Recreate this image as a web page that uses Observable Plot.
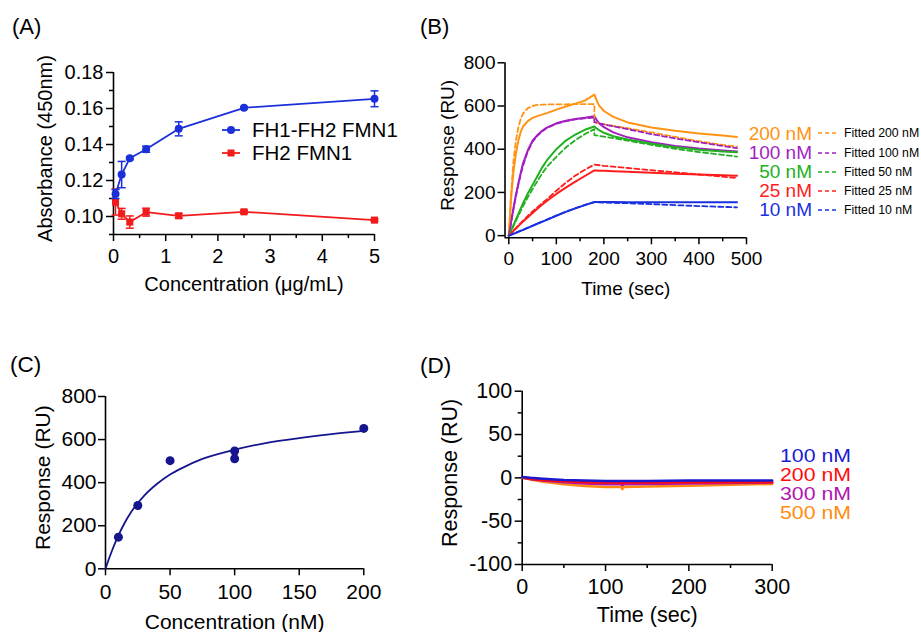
<!DOCTYPE html>
<html><head><meta charset="utf-8">
<script src="https://cdn.jsdelivr.net/npm/d3@7"></script>
<script src="https://cdn.jsdelivr.net/npm/@observablehq/plot@0.6"></script>
<style>
body{margin:0;background:#fff;}
#fig{position:relative;width:921px;height:632px;overflow:hidden;background:#fff;font-family:"Liberation Sans",Arial,sans-serif;}
.abs{position:absolute;white-space:nowrap;}
.row{position:absolute;display:flex;align-items:center;white-space:nowrap;}
.lt{display:inline-block;overflow:visible;}
</style></head><body><div id="fig"></div>
<script>
// ---------- Panel A data ----------
const concA = [0.039, 0.156, 0.3125, 0.625, 1.25, 2.5, 5];
const absFH1FH2 = [0.1125, 0.1233, 0.1324, 0.1374, 0.1487, 0.1604, 0.1654];
const errFH1FH2 = [0.0025, 0.0073, 0.0008, 0.0017, 0.0039, 0.0006, 0.0044];
const absFH2 = [0.1080, 0.1015, 0.0969, 0.1024, 0.1004, 0.1026, 0.0980];
const errFH2 = [0.0072, 0.0030, 0.0034, 0.0022, 0.0012, 0.0008, 0.0006];
const seriesA = ["FH1-FH2 FMN1", "FH2 FMN1"];
const ticksAx = [0, 1, 2, 3, 4, 5];
const minorAx = [0.5, 1.5, 2.5, 3.5, 4.5];
const ticksAy = [0.10, 0.12, 0.14, 0.16, 0.18];
const minorAy = [0.09, 0.11, 0.13, 0.15, 0.17];

// ---------- Panel B data ----------
const concB = ["200 nM", "100 nM", "50 nM", "25 nM", "10 nM"];
const fittedB = ["Fitted 200 nM", "Fitted 100 nM", "Fitted 50 nM", "Fitted 25 nM", "Fitted 10 nM"];
const timeObs = [0,5,10,15,20,25,30,40,50,60,70,80,100,120,140,160,180,185,190,200,220,250,300,350,400,450,480];
const obs200 = [0,180,300,380,440,480,505,530,545,553,560,567,583,598,611,625,653,625,602,577,550,524,501,485,473,463,457];
const obs100 = [0,65,130,190,240,290,335,395,440,465,485,500,520,532,540,546,553,535,520,502,478,455,432,415,403,394,389];
const obs50  = [0,25,50,75,100,125,150,195,235,275,315,348,400,440,468,490,505,496,488,476,460,445,425,409,398,390,386];
const obs25  = [0,11,22,33,44,55,65,85,105,124,143,160,193,222,250,276,302,301,300,300,298,296,291,287,283,280,277];
const obs10  = [0,4,9,13,18,22,27,36,45,55,64,73,92,110,126,141,156,156,156,156,156,155,155,155,154,154,154];
const timeFit = [0,5,10,15,20,25,30,40,50,60,70,80,100,120,140,160,180,180,200,250,300,350,400,450,480];
const fit200 = [0,200,350,440,500,540,565,590,600,605,606,607,608,608,609,609,609,525,515,497,478,457,437,420,412];
const fit100 = [0,62,125,182,235,282,325,390,435,462,482,498,518,530,538,543,547,525,515,493,470,450,432,415,405];
const fit50  = [0,22,45,68,92,115,137,178,216,252,287,318,365,408,442,470,493,465,458,440,420,402,387,374,366];
const fit25  = [0,12,24,35,47,58,69,91,112,131,150,168,208,245,278,305,329,329,323,313,303,293,283,273,267];
const fit10  = [0,5,9,14,18,23,27,37,46,56,65,74,93,111,127,142,155,155,153,150,146,141,137,133,131];
const ticksBx = [0, 100, 200, 300, 400, 500];
const minorBx = [50, 150, 250, 350, 450];
const ticksBy = [0, 200, 400, 600, 800];

// ---------- Panel C data ----------
const concC = [10, 25, 50, 100, 100, 200];
const respC = [147, 294, 502, 547, 511, 652];
const fitConcC = [0, 2, 5, 10, 15, 20, 30, 40, 50, 60, 75, 100, 125, 150, 175, 200];
const fitRespC = [0, 35, 84, 155, 215, 265, 340, 395, 438, 470, 510, 553, 585, 607, 625, 640];
const ticksCx = [0, 50, 100, 150, 200];
const ticksCy = [0, 200, 400, 600, 800];

// ---------- Panel D data ----------
const concD = ["100 nM", "200 nM", "300 nM", "500 nM"];
const timeD = [0, 10, 25, 50, 75, 100, 119, 120, 122, 150, 200, 250, 300];
const respD100 = [1, 0, -1, -2.5, -3, -3.5, -3.5, -3.5, -3.5, -3.5, -3.2, -3, -3];
const respD200 = [0.5, -1, -2.5, -4, -5, -5.5, -5.5, -6.5, -5.5, -5.5, -5, -5, -5];
const respD300 = [0.5, -1.5, -3, -5, -6.5, -7.5, -7.5, -8.5, -7.5, -7, -6.5, -6, -5.5];
const respD500 = [0, -2, -4.5, -7.5, -9.5, -10.5, -10.5, -13, -10.5, -10, -9, -8, -7];
const ticksDx = [0, 100, 200, 300];
const minorDx = [50, 150, 250];
const ticksDy = [-100, -50, 0, 50, 100];
const minorDy = [-75, -25, 25, 75];

// ---------- helpers ----------
const FONT = '"Liberation Sans", Arial, sans-serif';
const fig = document.getElementById("fig");
const capSymbol = {draw(ctx, size) { const w = Math.sqrt(size / Math.PI); ctx.moveTo(-w, 0); ctx.lineTo(w, 0); }};

function axes(o) {
  const m = [
    Plot.axisY({ticks: o.yTicks, tickSize: 7, tickPadding: o.yPad, tickFormat: o.yFmt, strokeWidth: 1.5, fontSize: o.fs, label: null}),
    Plot.axisX({ticks: o.xTicks, tickSize: 7, tickPadding: o.xPad, tickFormat: o.xFmt, strokeWidth: 1.5, fontSize: o.fs,
      label: o.xLabel, labelAnchor: "center", labelOffset: o.xLabelOffset, labelArrow: "none"}),
    Plot.text([o.yLabel], {text: d => d, frameAnchor: "left", rotate: -90, lineAnchor: "top", textAnchor: "middle",
      dx: -o.yLabelOffset, dy: -5, fontSize: o.fs}),
    Plot.ruleX([o.xDomain[0]], {strokeWidth: 1.6}),
    Plot.ruleY([o.yDomain[0]], {strokeWidth: 1.6})
  ];
  if (o.yMinor) m.push(Plot.axisY({ticks: o.yMinor, tickSize: 4, tickFormat: () => "", strokeWidth: 1.5, label: null}));
  if (o.xMinor) m.push(Plot.axisX({ticks: o.xMinor, tickSize: 4, tickFormat: () => "", strokeWidth: 1.5, label: null}));
  return m;
}
function place(el, left, top) {
  el.style.position = "absolute"; el.style.left = left + "px"; el.style.top = top + "px";
  fig.appendChild(el);
}
function baseStyle() { return {background: "transparent", overflow: "visible", fontFamily: FONT, color: "black"}; }
function label(txt, left, baseline, fs, color) {
  const d = document.createElement("div");
  d.className = "abs"; d.textContent = txt;
  d.style.left = left + "px"; d.style.top = (baseline - 0.8465 * fs) + "px";
  d.style.fontSize = fs + "px"; d.style.lineHeight = fs + "px"; d.style.color = color || "#000";
  fig.appendChild(d);
}

// ---------- Panel A ----------
const blueA = "#1b30d9", redA = "#f21b1b";
const rowsA1 = concA.map((x, i) => ({x, y: absFH1FH2[i], e: errFH1FH2[i]}));
const rowsA2 = concA.map((x, i) => ({x, y: absFH2[i], e: errFH2[i]}));
function errMarks(rows, color) {
  return [
    Plot.ruleX(rows, {x: "x", y1: d => d.y - d.e, y2: d => d.y + d.e, stroke: color, strokeWidth: 1.5}),
    Plot.dot(rows, {x: "x", y: d => d.y + d.e, symbol: capSymbol, r: 4, stroke: color, strokeWidth: 1.5, fill: "none"}),
    Plot.dot(rows, {x: "x", y: d => d.y - d.e, symbol: capSymbol, r: 4, stroke: color, strokeWidth: 1.5, fill: "none"})
  ];
}
const plotA = Plot.plot({
  width: 400, height: 310, marginLeft: 113, marginRight: 26, marginTop: 72, marginBottom: 76,
  x: {domain: [0, 5]}, y: {domain: [0.09, 0.18]},
  style: baseStyle(),
  marks: [
    ...axes({xTicks: ticksAx, xMinor: minorAx, yTicks: ticksAy, yMinor: minorAy, xFmt: d => String(d), yFmt: d3.format(".2f"),
      fs: 20, xPad: 7, yPad: 3, xLabel: "Concentration (μg/mL)", xLabelOffset: 56, yLabel: "Absorbance (450nm)", yLabelOffset: 76,
      xDomain: [0, 5], yDomain: [0.09, 0.18]}),
    ...errMarks(rowsA2, redA),
    Plot.line(rowsA2, {x: "x", y: "y", stroke: redA, strokeWidth: 1.8}),
    Plot.dot(rowsA2, {x: "x", y: "y", symbol: "square", r: 4, fill: redA}),
    ...errMarks(rowsA1, blueA),
    Plot.line(rowsA1, {x: "x", y: "y", stroke: blueA, strokeWidth: 1.8}),
    Plot.dot(rowsA1, {x: "x", y: "y", r: 4, fill: blueA})
  ]
});
place(plotA, 0, 0);

// legend A
[[seriesA[0], blueA, "circle", 129.5], [seriesA[1], redA, "square", 152.5]].forEach(([txt, c, sym, cy]) => {
  const r = document.createElement("div");
  r.className = "row"; r.style.left = "222px"; r.style.top = (cy - 10) + "px"; r.style.height = "20px";
  const mk = sym === "circle" ? `<circle cx="9" cy="5" r="4" fill="${c}"/>` : `<rect x="5.5" y="1.5" width="7" height="7" fill="${c}"/>`;
  r.innerHTML = `<svg width="18" height="10" style="display:block"><line x1="0" y1="5" x2="18" y2="5" stroke="${c}" stroke-width="1.8"/>${mk}</svg>` +
    `<span class="lt" style="margin-left:12px;font-size:20.5px;line-height:20px;color:#000">${txt}</span>`;
  fig.appendChild(r);
});

// ---------- Panel B ----------
const colorsB = ["#ff9312", "#a21fc0", "#22b022", "#ff1c1c", "#1a30e0"];
const obsB = [obs200, obs100, obs50, obs25, obs10];
const fitB = [fit200, fit100, fit50, fit25, fit10];
const obsRows = concB.flatMap((c, k) => timeObs.map((t, i) => ({t, v: obsB[k][i], c})));
const fitRows = concB.flatMap((c, k) => timeFit.map((t, i) => ({t, v: fitB[k][i], c})));
const plotB = Plot.plot({
  width: 521, height: 310, marginLeft: 104.5, marginRight: 175, marginTop: 62.3, marginBottom: 72.7,
  x: {domain: [-8, 500]}, y: {domain: [-10, 800]},
  color: {domain: concB, range: colorsB},
  style: baseStyle(),
  marks: [
    ...axes({xTicks: ticksBx, xMinor: minorBx, yTicks: ticksBy, xFmt: d => String(d), yFmt: d => String(d),
      fs: 19, xPad: 7, yPad: 2.5, xLabel: "Time (sec)", xLabelOffset: 56.7, yLabel: "Response (RU)", yLabelOffset: 64.5,
      xDomain: [-8, 500], yDomain: [-10, 800]}),
    Plot.line(obsRows, {x: "t", y: "v", z: "c", stroke: "c", strokeWidth: 2}),
    Plot.line(fitRows, {x: "t", y: "v", z: "c", stroke: "c", strokeWidth: 1.8, strokeDasharray: "5,3"})
  ]
});
place(plotB, 400, 0);

// legend B
const centersB = [133.3, 152.5, 171.5, 190.5, 209.5];
concB.forEach((c, i) => {
  const r = document.createElement("div");
  r.className = "row"; r.style.left = "731px"; r.style.top = (centersB[i] - 9) + "px"; r.style.height = "18px";
  r.innerHTML = `<span class="lt" style="width:81px;text-align:right;font-size:19px;line-height:17px;color:${colorsB[i]}">${c}</span>` +
    `<svg width="18" height="4" style="display:block;margin-left:6px"><line x1="0" y1="2" x2="18" y2="2" stroke="${colorsB[i]}" stroke-width="1.6" stroke-dasharray="4,3"/></svg>` +
    `<span class="lt" style="margin-left:8px;font-size:12.3px;line-height:14px;color:#000">${fittedB[i]}</span>`;
  fig.appendChild(r);
});

// ---------- Panel C ----------
const navy = "#15158e";
const plotC = Plot.plot({
  width: 400, height: 312, marginLeft: 105, marginRight: 36.7, marginTop: 76, marginBottom: 63.7,
  x: {domain: [0, 200]}, y: {domain: [0, 800]},
  style: baseStyle(),
  marks: [
    ...axes({xTicks: ticksCx, yTicks: ticksCy, xFmt: d => String(d), yFmt: d => String(d),
      fs: 21, xPad: 8, yPad: 2, xLabel: "Concentration (nM)", xLabelOffset: 60, yLabel: "Response (RU)", yLabelOffset: 70,
      xDomain: [0, 200], yDomain: [0, 800]}),
    Plot.line(fitConcC.map((x, i) => ({x, y: fitRespC[i]})), {x: "x", y: "y", stroke: navy, strokeWidth: 1.8, curve: "monotone-x"}),
    Plot.dot(concC.map((x, i) => ({x, y: respC[i]})), {x: "x", y: "y", r: 4.5, fill: navy})
  ]
});
place(plotC, 0, 320);

// ---------- Panel D ----------
const colorsD = ["#1a1ad2", "#ff0a0a", "#b014b0", "#ff8c10"];
const respD = [respD100, respD200, respD300, respD500];
const rowsD = concD.flatMap((c, k) => timeD.map((t, i) => ({t, v: respD[k][i], c}))).reverse();
const plotD = Plot.plot({
  width: 521, height: 312, marginLeft: 121.7, marginRight: 149.3, marginTop: 70.7, marginBottom: 68,
  x: {domain: [0, 300]}, y: {domain: [-100, 100]},
  color: {domain: concD, range: colorsD},
  style: baseStyle(),
  marks: [
    ...axes({xTicks: ticksDx, xMinor: minorDx, yTicks: ticksDy, yMinor: minorDy, xFmt: d => String(d), yFmt: d => String(d),
      fs: 21.5, xPad: 7, yPad: 3, xLabel: "Time (sec)", xLabelOffset: 57.7, yLabel: "Response (RU)", yLabelOffset: 80.7,
      xDomain: [0, 300], yDomain: [-100, 100]}),
    Plot.line(rowsD, {x: "t", y: "v", z: "c", stroke: "c", strokeWidth: 2.5})
  ]
});
place(plotD, 400, 320);

// legend D
const centersD = [455.5, 474.5, 493.5, 512.5];
concD.forEach((c, i) => {
  const r = document.createElement("div");
  r.className = "row"; r.style.left = "780px"; r.style.top = (centersD[i] - 9) + "px"; r.style.height = "18px";
  r.innerHTML = `<span class="lt" style="font-size:19px;line-height:17px;color:${colorsD[i]};transform:scaleX(1.12);transform-origin:left center">${c}</span>`;
  fig.appendChild(r);
});

// panel labels
label("(A)", 12, 35, 22);
label("(B)", 420, 34.5, 22);
label("(C)", 10, 373, 22.5);
label("(D)", 420, 374, 22.5);
</script>
</body></html>
